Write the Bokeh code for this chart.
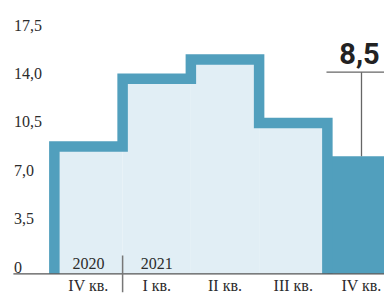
from bokeh.plotting import figure
from bokeh.models import Range1d
from bokeh.embed import file_html
from bokeh.resources import INLINE
from bokeh.core.properties import value

quarters = ["IV кв.", "I кв.", "II кв.", "III кв.", "IV кв."]
years = ["2020", "2021"]
values = [9.2, 14.1, 15.5, 10.9]
last_value = 8.5
last_label = "8,5"
y_ticks = [0, 3.5, 7.0, 10.5, 14.0, 17.5]
y_tick_labels = ["0", "3,5", "7,0", "10,5", "14,0", "17,5"]

BLUE = "#519fbd"
LIGHT = "#e1eef5"
TXT = "#2b2b2b"
SERIF = value("Liberation Serif")

p = figure(width=384, height=299, output_backend="svg", toolbar_location=None,
           x_range=Range1d(-1.289, 4.337), y_range=Range1d(-1.858, 19.76),
           min_border=0)
p.axis.visible = False
p.grid.visible = False
p.outline_line_color = None
p.background_fill_color = "white"

n = len(values)
xs_idx = list(range(n))
# light bars
p.quad(left=[i - 0.5 for i in xs_idx], right=[i + 0.5 for i in xs_idx],
       bottom=[0] * n, top=values, fill_color=LIGHT, line_color=None)

# last (current) bar
p.quad(left=[n - 0.5], right=[n + 0.5], bottom=[0], top=[last_value],
       fill_color=BLUE, line_color=None)

# step outline
sx, sy = [-0.5], [0]
for i, v in enumerate(values):
    sx += [i - 0.5, i + 0.5]
    sy += [v, v]
sx.append(n - 0.5)
sy.append(0)
p.line(sx, sy, line_color=BLUE, line_width=10.5, line_join="miter", line_cap="butt")

# baseline
p.segment(x0=[-1.1], y0=[0], x1=[n + 0.5], y1=[0], line_color="#555555", line_width=1.2)

# y labels
p.text(x=[-1.09] * len(y_ticks), y=[t + 0.48 for t in y_ticks], text=y_tick_labels,
       text_font=SERIF, text_font_size="16px", text_color=TXT,
       text_align="left", text_baseline="middle")

# quarter labels
p.text(x=list(range(len(quarters))), y=[-0.87] * len(quarters), text=quarters,
       text_font=SERIF, text_font_size="16px", text_color=TXT,
       text_align="center", text_baseline="middle")

# year labels
p.text(x=[0, 1], y=[0.74, 0.74], text=years,
       text_font=SERIF, text_font_size="16px", text_color=TXT,
       text_align="center", text_baseline="middle")

# year separator
p.segment(x0=[0.5], y0=[1.32], x1=[0.5], y1=[-1.33], line_color="#777777", line_width=1.5)

# callout
p.text(x=[n - 0.03], y=[15.93], text=[last_label], text_font=value("Roboto"),
       text_font_size="29px", text_font_style="bold", text_color="#222222",
       text_align="center", text_baseline="middle")
p.segment(x0=[n - 0.513], y0=[14.58], x1=[n + 0.5], y1=[14.58], line_color="#666666", line_width=1.3)
p.segment(x0=[n], y0=[14.58], x1=[n], y1=[last_value], line_color="#666666", line_width=1.3)

open("out.html", "w").write(file_html(p, INLINE))
